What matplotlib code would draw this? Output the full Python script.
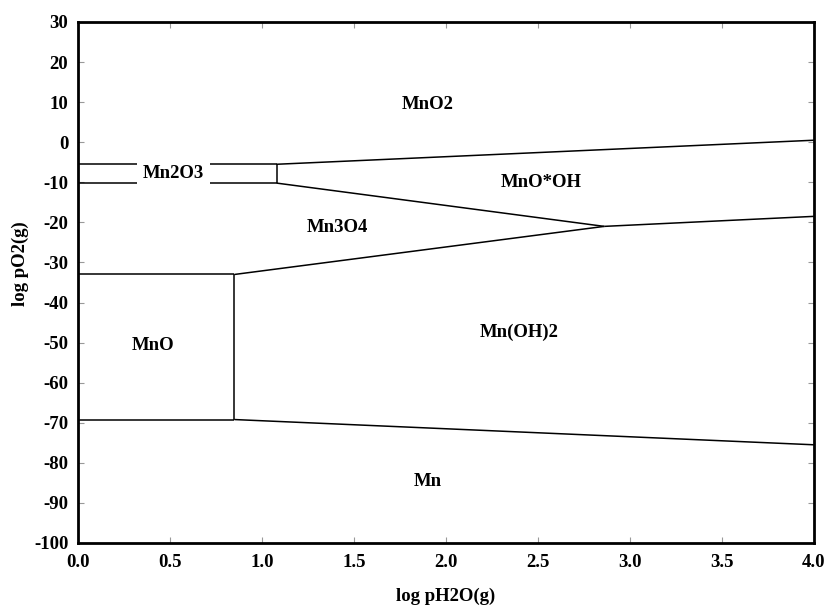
import matplotlib
matplotlib.use("Agg")
import matplotlib.pyplot as plt

# phase boundaries (log pH2O, log pO2)
mn2o3_top_x = [0.0, 1.08]
mn2o3_top_y = [-5.5, -5.5]
mn2o3_bot_x = [0.0, 1.08]
mn2o3_bot_y = [-10.2, -10.2]
mn2o3_side_x = [1.08, 1.08]
mn2o3_side_y = [-5.5, -10.2]
mno2_mnooh_x = [1.08, 4.0]
mno2_mnooh_y = [-5.5, 0.5]
mn3o4_mnooh_x = [1.08, 2.86]
mn3o4_mnooh_y = [-10.2, -21.0]
mn3o4_mnoh2_x = [0.85, 2.86]
mn3o4_mnoh2_y = [-33.0, -21.0]
mnooh_mnoh2_x = [2.86, 4.0]
mnooh_mnoh2_y = [-21.0, -18.5]
mno_top_x = [0.0, 0.85]
mno_top_y = [-33.0, -33.0]
mno_side_x = [0.85, 0.85]
mno_side_y = [-33.0, -69.2]
mno_bot_x = [0.0, 0.85]
mno_bot_y = [-69.2, -69.2]
mn_top_x = [0.85, 4.0]
mn_top_y = [-69.2, -75.5]

boundaries = [
    (mn2o3_top_x, mn2o3_top_y), (mn2o3_bot_x, mn2o3_bot_y),
    (mn2o3_side_x, mn2o3_side_y), (mno2_mnooh_x, mno2_mnooh_y),
    (mn3o4_mnooh_x, mn3o4_mnooh_y), (mn3o4_mnoh2_x, mn3o4_mnoh2_y),
    (mnooh_mnoh2_x, mnooh_mnoh2_y), (mno_top_x, mno_top_y),
    (mno_side_x, mno_side_y), (mno_bot_x, mno_bot_y),
    (mn_top_x, mn_top_y),
]

phase_names = ["MnO2", "Mn2O3", "MnO*OH", "Mn3O4", "MnO", "Mn(OH)2", "Mn"]
phase_x = [1.9, 0.52, 2.52, 1.41, 0.41, 2.40, 1.9]
phase_y = [9.4, -7.7, -10.0, -21.3, -50.8, -47.4, -84.7]

xticks = [0.0, 0.5, 1.0, 1.5, 2.0, 2.5, 3.0, 3.5, 4.0]
yticks = list(range(-100, 31, 10))

plt.rcParams["font.family"] = ["Liberation Serif", "DejaVu Serif"]
plt.rcParams["font.weight"] = "bold"

fig = plt.figure(figsize=(8.26, 6.06), dpi=100)
ax = fig.add_axes([0.0944, 0.104, 0.891, 0.8597])

for bx, by in boundaries:
    ax.plot(bx, by, color="black", lw=1.1, solid_capstyle="butt")

for name, px, py in zip(phase_names, phase_x, phase_y):
    if name == "Mn2O3":
        # label sits on top of the two lines, white box hides them
        ax.text(px, py, name, ha="center", va="center", fontsize=13.5,
                fontweight="bold", zorder=5,
                bbox=dict(facecolor="white", edgecolor="none", pad=4))
    else:
        ax.text(px, py, name, ha="center", va="center", fontsize=13.5,
                fontweight="bold")

ax.set_xlim(0, 4)
ax.set_ylim(-100, 30)
ax.set_xticks(xticks)
ax.set_xticklabels([f"{t:.1f}" for t in xticks])
ax.set_yticks(yticks)
ax.set_yticklabels([str(t) for t in yticks])

ax.tick_params(direction="in", length=4, width=0.8, color="#999999",
               top=True, right=True, labelsize=13.5, pad=8)
ax.tick_params(axis="y", pad=7)
for lab in ax.get_xticklabels() + ax.get_yticklabels():
    lab.set_fontweight("bold")

for side in ["left", "bottom", "top", "right"]:
    ax.spines[side].set_linewidth(2.0)

ax.set_xlabel("log pH2O(g)", fontsize=13.5, fontweight="bold", labelpad=12)
ax.set_ylabel("log pO2(g)", fontsize=13.5, fontweight="bold", labelpad=5)
ax.yaxis.set_label_coords(-0.066, 0.537)

fig.savefig("out.png", dpi=100, facecolor="white")
